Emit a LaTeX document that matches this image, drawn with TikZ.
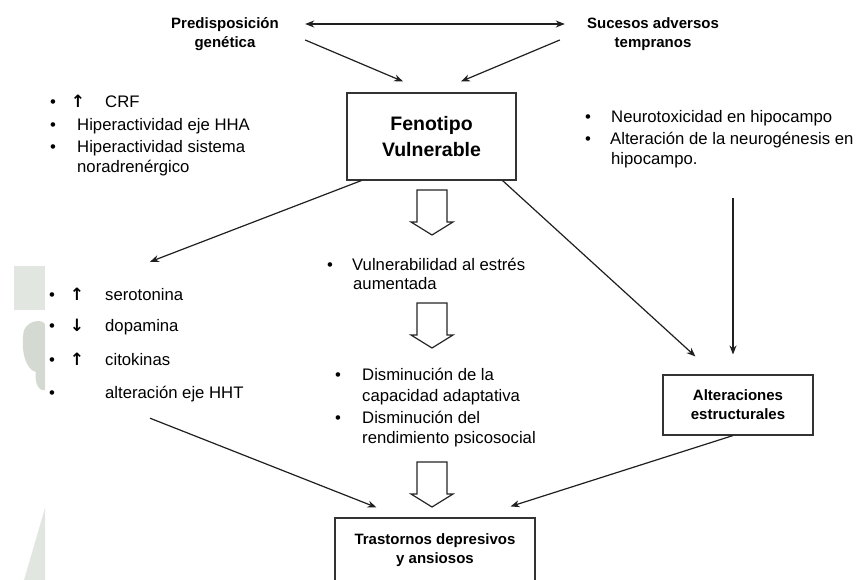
\documentclass[tikz,border=0pt]{standalone}
\usepackage{fontspec}
\setmainfont{Liberation Sans}
\newfontfamily\symfont{DejaVu Sans}
\usetikzlibrary{arrows.meta}
\newcommand\regf{\fontsize{16.7}{21}\selectfont}
\newcommand\headf{\fontsize{15}{19}\selectfont\bfseries}
\newcommand\fenf{\fontsize{19.5}{26}\selectfont\bfseries}
\definecolor{wmgray}{RGB}{226,230,225}
\definecolor{wmdark}{RGB}{212,218,210}
\tikzset{
  pics/blockarr/.style={code={
    \draw[line width=1.2pt, draw=black!85, fill=white, line join=miter]
      (-15,0) -- (15,0) -- (15,32) -- (21,32) -- (0,45) -- (-21,32) -- (-15,32) -- cycle;}},
}
\begin{document}
\begin{tikzpicture}[x=1pt,y=-1pt,
  txt/.style={anchor=base west, inner sep=0pt, font=\regf},
  bul/.style={anchor=base, inner sep=0pt, font=\regf},
  sym/.style={anchor=base, inner sep=0pt, font=\symfont\bfseries\fontsize{17}{17}\selectfont},
  head/.style={align=center, inner sep=0pt, font=\headf},
  boxn/.style={draw=black!80, line width=1.1pt, align=center, inner sep=0pt},
  grp/.style={inner sep=0pt, draw=none},
  conn/.style={line width=1.2pt, draw=black!88, -{Stealth[length=9pt,width=7pt]}},
  wm/.style={draw=none}
]
\useasboundingbox (0,0) rectangle (856,580);
\clip (0,0) rectangle (856,580);
\fill[white] (0,0) rectangle (856,580);

% faint watermark at left edge
\fill[wm, fill=wmgray] (14,266) -- (45,266) -- (45,310) -- (14,310) -- cycle;
\fill[wm, fill=wmdark] (24,330) .. controls (30,318) and (45,320) .. (45,325) -- (45,390) .. controls (38,392) and (34,380) .. (36,372) .. controls (26,370) and (20,350) .. (24,330) -- cycle;
\fill[wm, fill=wmgray] (45,508) -- (45,580) -- (24,580) -- cycle;

% top nodes
\node[head, minimum width=116, minimum height=40] (pg) at (225,34) {Predisposición\\genética};
\node[head, minimum width=140, minimum height=40] (sa) at (653,34.5) {Sucesos adversos\\tempranos};
\node[boxn, font=\fenf, minimum width=169, minimum height=87] (fen) at (431.5,136.5) {Fenotipo\\Vulnerable};
\node[boxn, font=\headf, minimum width=150, minimum height=60] (alt) at (738,405) {Alteraciones\\estructurales};
\node[boxn, font=\headf, minimum width=200, minimum height=65] (trast) at (435,550.5) {Trastornos depresivos\\y ansiosos};

% top-left list
\node[bul] (b1) at (53,108) {•};
\node[sym] (u1) at (78,108) {↑};
\node[txt] (t1) at (105,108) {CRF};
\node[bul] (b2) at (53,131) {•};
\node[txt] (t2) at (77,131) {Hiperactividad eje HHA};
\node[bul] (b3) at (53,153) {•};
\node[txt] (t3) at (77,153) {Hiperactividad sistema};
\node[txt] (t4) at (77,173) {noradrenérgico};

% top-right list
\node[bul] (b4) at (588,123) {•};
\node[txt] (t5) at (611,123) {Neurotoxicidad en hipocampo};
\node[bul] (b5) at (588,145) {•};
\node[txt] (t6) at (610,145) {Alteración de la neurogénesis en};
\node[txt] (t7) at (611,165) {hipocampo.};
\node[grp, minimum width=270, minimum height=100] (rightlist) at (715,148) {};

% centre texts
\node[bul] (b6) at (330,270) {•};
\node[txt] (t8) at (352,270) {Vulnerabilidad al estrés};
\node[txt] (t9) at (353,289) {aumentada};
\node[bul] (b7) at (338,380) {•};
\node[txt] (t10) at (362,380) {Disminución de la};
\node[txt] (t11) at (362,401) {capacidad adaptativa};
\node[bul] (b8) at (338,423) {•};
\node[txt] (t12) at (362,423) {Disminución del};
\node[txt] (t13) at (362,443) {rendimiento psicosocial};

% left list
\node[bul] (b9) at (52,300) {•};
\node[sym] (u2) at (77,300) {↑};
\node[txt] (t14) at (105,300) {serotonina};
\node[bul] (b10) at (52,331) {•};
\node[sym] (u3) at (77,331) {↓};
\node[txt] (t15) at (105,331) {dopamina};
\node[bul] (b11) at (52,365) {•};
\node[sym] (u4) at (77,365) {↑};
\node[txt] (t16) at (105,365) {citokinas};
\node[bul] (b12) at (52,398) {•};
\node[txt] (t17) at (105,398) {alteración eje HHT};
\node[grp, minimum width=210, minimum height=156] (leftlist) at (150,340) {};

% connectors
\draw[conn, {Stealth[length=9pt,width=7pt]}-{Stealth[length=9pt,width=7pt]}]
  ([shift={(22,-10)}]pg.east) -- ([shift={(-18,-10.5)}]sa.west);
\draw[conn] ([shift={(22,6)}]pg.east) -- ([shift={(-28.5,-11)}]fen.north);
\draw[conn] ([shift={(-23,5.5)}]sa.west) -- ([shift={(29.5,-11)}]fen.north);
\draw[conn] ([xshift=15]fen.south west) -- (leftlist.north);
\draw[conn] ([xshift=-14]fen.south east) -- ([shift={(33,-18)}]alt.north west);
\draw[conn] ([xshift=18]rightlist.south) -- ([shift={(-5,-20)}]alt.north);
\draw[conn] (leftlist.south) -- ([shift={(42,-10)}]trast.north west);
\draw[conn] ([xshift=-5]alt.south) -- ([shift={(-25,-11)}]trast.north east);

% hollow block arrows
\pic at (432,190) {blockarr};
\pic at (432,303) {blockarr};
\pic at (432,462) {blockarr};
\end{tikzpicture}
\end{document}
